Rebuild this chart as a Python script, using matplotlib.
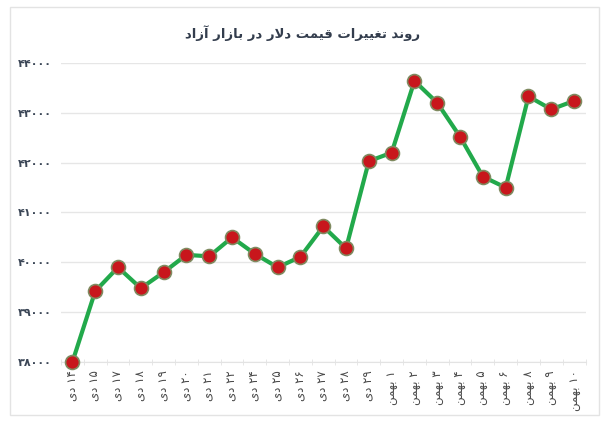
import matplotlib
matplotlib.use("Agg")
import matplotlib.pyplot as plt
from matplotlib.patches import Rectangle
from matplotlib.ticker import FixedLocator

# ---------------- data ----------------
title = "روند تغییرات قیمت دلار در بازار آزاد"
days = ["۱۴", "۱۵", "۱۷", "۱۸", "۱۹", "۲۰", "۲۱", "۲۲", "۲۴", "۲۵", "۲۶", "۲۷", "۲۸", "۲۹",
        "۱", "۲", "۳", "۴", "۵", "۶", "۸", "۹", "۱۰"]
months = ["دی"] * 14 + ["بهمن"] * 9
prices = [38000, 39420, 39900, 39480, 39800, 40150, 40120, 40500, 40170, 39900, 40110,
          40720, 40280, 42030, 42200, 43640, 43200, 42520, 41720, 41500, 43330, 43070, 43240]
y_ticks = [38000, 39000, 40000, 41000, 42000, 43000, 44000]

# ---------------- simple Persian shaping ----------------
FORMS = {  # iso, fin, init, med
    'ا': ('\uFE8D', '\uFE8E', None, None),
    'آ': ('\uFE81', '\uFE82', None, None),
    'ب': ('\uFE8F', '\uFE90', '\uFE91', '\uFE92'),
    'ت': ('\uFE95', '\uFE96', '\uFE97', '\uFE98'),
    'د': ('\uFEA9', '\uFEAA', None, None),
    'ر': ('\uFEAD', '\uFEAE', None, None),
    'ز': ('\uFEAF', '\uFEB0', None, None),
    'غ': ('\uFECD', '\uFECE', '\uFECF', '\uFED0'),
    'ق': ('\uFED5', '\uFED6', '\uFED7', '\uFED8'),
    'ل': ('\uFEDD', '\uFEDE', '\uFEDF', '\uFEE0'),
    'م': ('\uFEE1', '\uFEE2', '\uFEE3', '\uFEE4'),
    'ن': ('\uFEE5', '\uFEE6', '\uFEE7', '\uFEE8'),
    'ه': ('\uFEE9', '\uFEEA', '\uFEEB', '\uFEEC'),
    'و': ('\uFEED', '\uFEEE', None, None),
    'ی': ('\uFEEF', '\uFEF0', '\uFEF3', '\uFEF4'),
}
LAMALEF = {'ا': ('\uFEFB', '\uFEFC'), 'آ': ('\uFEF5', '\uFEF6')}


def dual(c):
    return c in FORMS and FORMS[c][2] is not None


def shape(s):
    out = []
    i = 0
    n = len(s)
    while i < n:
        c = s[i]
        if c not in FORMS:
            out.append(c)
            i += 1
            continue
        prev = s[i - 1] if i > 0 else ''
        jp = dual(prev)
        if c == 'ل' and i + 1 < n and s[i + 1] in LAMALEF:
            out.append(LAMALEF[s[i + 1]][1 if jp else 0])
            i += 2
            continue
        nxt = s[i + 1] if i + 1 < n else ''
        jn = dual(c) and nxt in FORMS
        f = FORMS[c]
        if jp and jn:
            out.append(f[3])
        elif jp:
            out.append(f[1])
        elif jn:
            out.append(f[2])
        else:
            out.append(f[0])
        i += 1
    shaped = ''.join(out)
    # visual order: reverse, keeping digit runs LTR
    tokens = []
    cur = ''
    curdig = None
    for ch in shaped:
        d = ch.isdigit()
        if curdig is None or d == curdig:
            cur += ch
        else:
            tokens.append((cur, curdig))
            cur = ch
        curdig = d
    if cur:
        tokens.append((cur, curdig))
    vis = ''
    for t, d in reversed(tokens):
        vis += t if d else t[::-1]
    return vis


FA_DIG = str.maketrans('0123456789', '۰۱۲۳۴۵۶۷۸۹')

labels = [shape(d + ' ' + m) for d, m in zip(days, months)]

# ---------------- figure ----------------
W, H = 609, 424
fig = plt.figure(figsize=(W / 100, H / 100), dpi=100)
fig.patch.set_facecolor('white')
fig.patches.append(Rectangle((10 / W, 1 - 415 / H), 589 / W, 408 / H,
                             transform=fig.transFigure, facecolor='none',
                             edgecolor='#e3e3e3', linewidth=1, zorder=0))

ax = fig.add_axes([61 / W, 1 - 362 / H, 524.5 / W, 299 / H])
ax.set_facecolor('none')
x = list(range(len(prices)))
ax.plot(x, prices, color='#22a94b', linewidth=3.0, zorder=3,
        marker='o', markersize=10, markerfacecolor='#c8161c',
        markeredgecolor='#7f8a60', markeredgewidth=1.2, clip_on=False)

ax.set_xlim(-0.5, len(prices) - 0.5)
ax.set_ylim(38000, 44000)
ax.set_yticks(y_ticks)
ax.set_yticklabels([str(v).translate(FA_DIG) for v in y_ticks],
                   fontsize=8, fontweight='bold', color='#3b4656',
                   family=['DejaVu Sans'])
ax.set_xticks(x)
ax.set_xticklabels(labels, rotation=90, fontsize=8.5, color='#4a4a4a',
                   family=['DejaVu Sans'])
ax.xaxis.set_minor_locator(FixedLocator([i + 0.5 for i in range(-1, len(prices))]))
ax.tick_params(axis='x', which='major', length=0, pad=6)
ax.tick_params(axis='x', which='minor', length=5, direction='inout', color='#e3e3e3')
for lab in ax.get_yticklabels():
    lab.set_horizontalalignment('left')
ax.tick_params(axis='y', length=0, pad=31)

ax.grid(axis='y', color='#e6e6e6', linewidth=1)
ax.set_axisbelow(True)
for sp in ['top', 'right', 'left']:
    ax.spines[sp].set_visible(False)
ax.spines['bottom'].set_color('#e3e3e3')

fig.text(303 / W, 1 - 33 / H, shape(title), ha='center', va='center',
         fontsize=9.5, fontweight='bold', color='#333d4d', family=['DejaVu Sans'])

fig.savefig('out.png', dpi=100, facecolor='white')
